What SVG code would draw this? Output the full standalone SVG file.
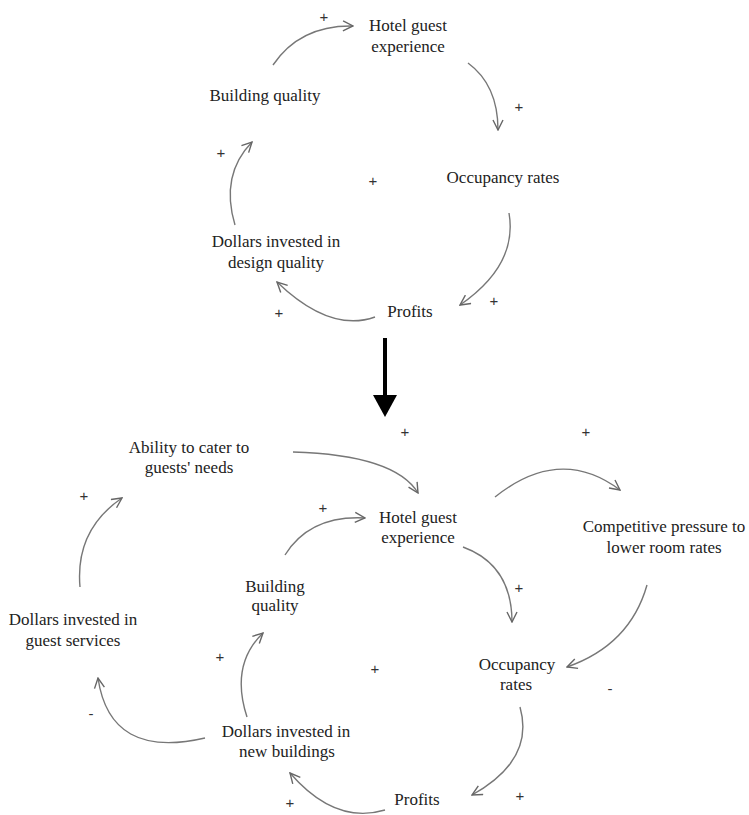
<svg xmlns="http://www.w3.org/2000/svg" width="749" height="815" viewBox="0 0 749 815">
<style>
text{font-family:"Liberation Serif","Times New Roman",serif;font-size:17px;fill:#222;text-anchor:middle}
.sign{font-family:"Liberation Sans",Arial,sans-serif;font-size:15px;fill:#333}
.c path{fill:none;stroke:#777;stroke-width:1.4}
</style>
<defs>
<marker id="ah" viewBox="0 0 12 12" refX="11" refY="6" markerWidth="12" markerHeight="12" markerUnits="userSpaceOnUse" orient="auto">
<path d="M1,1 L11,6 L1,11" fill="none" stroke="#666" stroke-width="1.4"/>
</marker>
</defs>
<rect width="749" height="815" fill="#fff"/>
<g id="top-nodes">
<g id="t-hotel"><text x="408" y="31">Hotel guest</text><text x="408" y="52">experience</text></g>
<g id="t-building"><text x="265" y="101">Building quality</text></g>
<g id="t-occupancy"><text x="503" y="183">Occupancy rates</text></g>
<g id="t-dollars"><text x="276" y="247">Dollars invested in</text><text x="276" y="268">design quality</text></g>
<g id="t-profits"><text x="410" y="317">Profits</text></g>
</g>
<g id="bottom-nodes">
<g id="b-ability"><text x="189" y="453">Ability to cater to</text><text x="189" y="473">guests' needs</text></g>
<g id="b-hotel"><text x="418" y="523">Hotel guest</text><text x="418" y="543">experience</text></g>
<g id="b-competitive"><text x="664" y="532">Competitive pressure to</text><text x="664" y="553">lower room rates</text></g>
<g id="b-building"><text x="275" y="592">Building</text><text x="275" y="611">quality</text></g>
<g id="b-dguest"><text x="73" y="625">Dollars invested in</text><text x="73" y="646">guest services</text></g>
<g id="b-occupancy"><text x="517" y="670">Occupancy</text><text x="516" y="690">rates</text></g>
<g id="b-dnew"><text x="286" y="737">Dollars invested in</text><text x="287" y="757">new buildings</text></g>
<g id="b-profits"><text x="417" y="805">Profits</text></g>
</g>
<g id="signs">
<text class="sign" x="324" y="22">+</text>
<text class="sign" x="519" y="112">+</text>
<text class="sign" x="221" y="158">+</text>
<text class="sign" x="373" y="186">+</text>
<text class="sign" x="494" y="306">+</text>
<text class="sign" x="279" y="318">+</text>
<text class="sign" x="405" y="437">+</text>
<text class="sign" x="586" y="437">+</text>
<text class="sign" x="84" y="501">+</text>
<text class="sign" x="323" y="513">+</text>
<text class="sign" x="519" y="593">+</text>
<text class="sign" x="220" y="662">+</text>
<text class="sign" x="375" y="674">+</text>
<text class="sign" x="610" y="694">-</text>
<text class="sign" x="91" y="719">-</text>
<text class="sign" x="290" y="808">+</text>
<text class="sign" x="520" y="801">+</text>
</g>
<g id="connectors" class="c">
<path d="M273,65 Q300,25 353,26" marker-end="url(#ah)"/>
<path d="M468,63 Q498,85 498,130" marker-end="url(#ah)"/>
<path d="M509,213 Q518,265 460,305" marker-end="url(#ah)"/>
<path d="M375,317 Q330,333 277,282" marker-end="url(#ah)"/>
<path d="M235,225 Q220,175 252,142" marker-end="url(#ah)"/>
<path d="M293,452 Q395,455 418,493" marker-end="url(#ah)"/>
<path d="M285,555 Q310,515 365,518" marker-end="url(#ah)"/>
<path d="M80,587 Q75,530 122,498" marker-end="url(#ah)"/>
<path d="M495,497 Q560,445 620,490" marker-end="url(#ah)"/>
<path d="M463,547 Q512,565 512,622" marker-end="url(#ah)"/>
<path d="M647,585 Q630,645 567,667" marker-end="url(#ah)"/>
<path d="M520,707 Q535,760 472,795" marker-end="url(#ah)"/>
<path d="M385,810 Q335,825 290,773" marker-end="url(#ah)"/>
<path d="M247,717 Q230,665 263,633" marker-end="url(#ah)"/>
<path d="M205,738 Q110,760 98,678" marker-end="url(#ah)"/>
</g>
<g id="transition">
<line x1="385" y1="338" x2="385" y2="398" stroke="#000" stroke-width="4"/>
<polygon points="373,395 397,395 385,417" fill="#000"/>
</g>
</svg>
